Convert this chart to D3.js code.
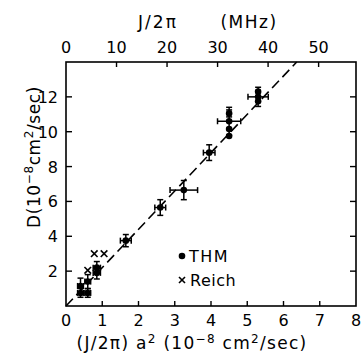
<!DOCTYPE html>
<html>
<head>
<meta charset="utf-8">
<script src="https://cdn.jsdelivr.net/npm/d3@7"></script>
<style>
  html, body { margin: 0; padding: 0; background: #fff; }
  svg { display: block; }
  text { font-family: "DejaVu Sans", "Liberation Sans", sans-serif; fill: #000; }
</style>
</head>
<body>
<svg id="chart" width="363" height="363"></svg>
<script>
// THM measurements: x = (J/2π)a², y = D, with x and y error half-widths
const thmX    = [0.40, 0.60, 0.40, 0.60, 0.85, 0.85, 1.65, 2.60, 3.25, 3.95, 4.50, 4.50, 4.50, 4.50, 5.30, 5.30, 5.30];
const thmY    = [0.75, 0.75, 1.15, 1.40, 1.90, 2.20, 3.75, 5.65, 6.65, 8.80, 10.6, 11.05, 10.15, 9.75, 12.0, 12.3, 11.75];
const thmXErr = [0.08, 0.08, 0.08, 0.08, 0.10, 0.10, 0.15, 0.15, 0.38, 0.16, 0.32, 0, 0, 0, 0.28, 0, 0];
const thmYErr = [0.25, 0.25, 0.45, 0.40, 0.35, 0.35, 0.35, 0.45, 0.55, 0.45, 0.80, 0.2, 0, 0, 0.55, 0, 0];
// Reich measurements
const reichX = [0.60, 0.78, 1.05];
const reichY = [2.05, 3.00, 3.00];
// Fitted line D = k (J/2π)a²
const fitSlope = 2.2;
// Axis ticks
const bottomTicks = [0, 1, 2, 3, 4, 5, 6, 7, 8];
const leftTicks = [2, 4, 6, 8, 10, 12];
const topTicks = [0, 10, 20, 30, 40, 50];
const topMax = 57.4;

const svg = d3.select("#chart");
const L = 66, R = 356, T = 62, B = 306;

const x = d3.scaleLinear().domain([0, 8]).range([L, R]);
const y = d3.scaleLinear().domain([0, 14]).range([B, T]);
const xTop = d3.scaleLinear().domain([0, topMax]).range([L, R]);

// frame
svg.append("rect").attr("x", L).attr("y", T).attr("width", R - L).attr("height", B - T)
  .attr("fill", "none").attr("stroke", "#000").attr("stroke-width", 1.6);

// inward ticks
const tk = 5;
const g = svg.append("g").attr("stroke", "#000").attr("stroke-width", 1.4);
bottomTicks.slice(1, -1).forEach(v => {
  g.append("line").attr("x1", x(v)).attr("x2", x(v)).attr("y1", B).attr("y2", B - tk);
});
leftTicks.forEach(v => {
  g.append("line").attr("x1", L).attr("x2", L + tk + 1).attr("y1", y(v)).attr("y2", y(v));
  g.append("line").attr("x1", R).attr("x2", R - tk - 1).attr("y1", y(v)).attr("y2", y(v));
});
topTicks.slice(1).forEach(v => {
  g.append("line").attr("x1", xTop(v)).attr("x2", xTop(v)).attr("y1", T).attr("y2", T + tk);
});

// tick labels
svg.append("g").selectAll("text").data(bottomTicks).join("text")
  .attr("x", d => x(d)).attr("y", 326).attr("text-anchor", "middle")
  .attr("font-size", 16).text(d => d);
svg.append("g").selectAll("text").data(leftTicks).join("text")
  .attr("x", 58).attr("y", d => y(d) + 6).attr("text-anchor", "end")
  .attr("font-size", 16).text(d => d);
svg.append("g").selectAll("text").data(topTicks).join("text")
  .attr("x", d => xTop(d)).attr("y", 53).attr("text-anchor", "middle")
  .attr("font-size", 16).text(d => d);

// axis titles
const xt = svg.append("text").attr("x", 192).attr("y", 349).attr("text-anchor", "middle")
  .attr("font-size", 17).attr("letter-spacing", 1.3);
xt.append("tspan").text("(J/2\u03C0) a");
xt.append("tspan").attr("dy", -6).attr("font-size", 12).text("2");
xt.append("tspan").attr("dy", 6).text(" (10");
xt.append("tspan").attr("dy", -6).attr("font-size", 12).text("\u22128");
xt.append("tspan").attr("dy", 6).text(" cm");
xt.append("tspan").attr("dy", -6).attr("font-size", 12).text("2");
xt.append("tspan").attr("dy", 6).text("/sec)");

svg.append("text").attr("x", 158).attr("y", 28).attr("text-anchor", "middle")
  .attr("font-size", 17).attr("letter-spacing", 2).text("J/2\u03C0");
svg.append("text").attr("x", 249).attr("y", 28).attr("text-anchor", "middle")
  .attr("font-size", 17).attr("letter-spacing", 1.5).text("(MHz)");

const yt = svg.append("text").attr("transform", "translate(40,157) rotate(-90)")
  .attr("text-anchor", "middle").attr("font-size", 17).attr("letter-spacing", 0.6);
yt.append("tspan").text("D(10");
yt.append("tspan").attr("dy", -7).attr("font-size", 12).text("\u22128");
yt.append("tspan").attr("dy", 7).text("cm");
yt.append("tspan").attr("dy", -7).attr("font-size", 12).text("2");
yt.append("tspan").attr("dy", 7).text("/sec)");

// dashed fit line, clipped at the top of the frame
const xEnd = 14 / fitSlope;
svg.append("line")
  .attr("x1", x(0)).attr("y1", y(0))
  .attr("x2", x(xEnd)).attr("y2", y(fitSlope * xEnd))
  .attr("stroke", "#000").attr("stroke-width", 1.6)
  .attr("stroke-dasharray", "10,5");

// THM error bars and points
const thm = thmX.map((v, i) => ({ x: v, y: thmY[i], ex: thmXErr[i], ey: thmYErr[i] }));
const eb = svg.append("g").attr("stroke", "#000").attr("stroke-width", 1.5);
const cap = 3;
thm.forEach(d => {
  if (d.ex > 0) {
    eb.append("line").attr("x1", x(d.x - d.ex)).attr("x2", x(d.x + d.ex)).attr("y1", y(d.y)).attr("y2", y(d.y));
    eb.append("line").attr("x1", x(d.x - d.ex)).attr("x2", x(d.x - d.ex)).attr("y1", y(d.y) - cap).attr("y2", y(d.y) + cap);
    eb.append("line").attr("x1", x(d.x + d.ex)).attr("x2", x(d.x + d.ex)).attr("y1", y(d.y) - cap).attr("y2", y(d.y) + cap);
  }
  if (d.ey > 0) {
    eb.append("line").attr("x1", x(d.x)).attr("x2", x(d.x)).attr("y1", y(d.y - d.ey)).attr("y2", y(d.y + d.ey));
    eb.append("line").attr("x1", x(d.x) - cap).attr("x2", x(d.x) + cap).attr("y1", y(d.y + d.ey)).attr("y2", y(d.y + d.ey));
    eb.append("line").attr("x1", x(d.x) - cap).attr("x2", x(d.x) + cap).attr("y1", y(d.y - d.ey)).attr("y2", y(d.y - d.ey));
  }
});
svg.append("g").selectAll("circle").data(thm).join("circle")
  .attr("cx", d => x(d.x)).attr("cy", d => y(d.y)).attr("r", 3.3).attr("fill", "#000");

// Reich points
const reich = reichX.map((v, i) => ({ x: v, y: reichY[i] }));
const rs = 3.3;
const rg = svg.append("g").attr("stroke", "#000").attr("stroke-width", 1.6);
reich.forEach(d => {
  const cx = x(d.x), cy = y(d.y);
  rg.append("line").attr("x1", cx - rs).attr("y1", cy - rs).attr("x2", cx + rs).attr("y2", cy + rs);
  rg.append("line").attr("x1", cx - rs).attr("y1", cy + rs).attr("x2", cx + rs).attr("y2", cy - rs);
});

// legend
svg.append("circle").attr("cx", 182).attr("cy", 256).attr("r", 3.3).attr("fill", "#000");
svg.append("text").attr("x", 189).attr("y", 262).attr("font-size", 16).attr("letter-spacing", 1.5).text("THM");
const lx = 182, ly = 280;
svg.append("line").attr("x1", lx - 3).attr("y1", ly - 3).attr("x2", lx + 3).attr("y2", ly + 3).attr("stroke", "#000").attr("stroke-width", 1.6);
svg.append("line").attr("x1", lx - 3).attr("y1", ly + 3).attr("x2", lx + 3).attr("y2", ly - 3).attr("stroke", "#000").attr("stroke-width", 1.6);
svg.append("text").attr("x", 190).attr("y", 286).attr("font-size", 16).attr("letter-spacing", 0.5).text("Reich");
</script>
</body>
</html>
